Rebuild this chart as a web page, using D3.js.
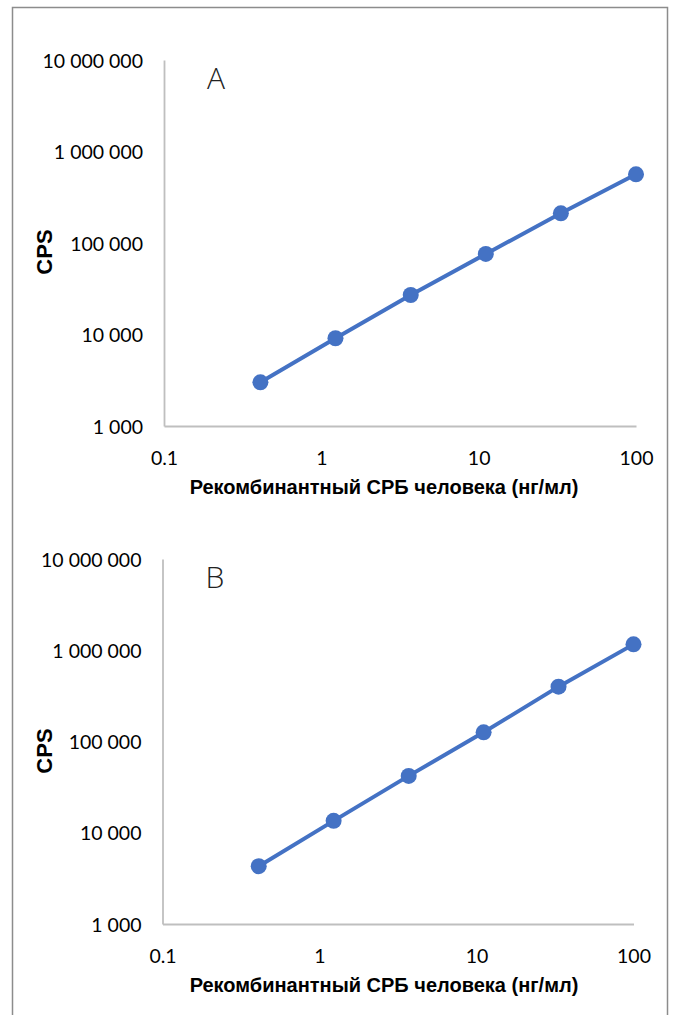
<!DOCTYPE html>
<html>
<head>
<meta charset="utf-8">
<script src="https://cdn.jsdelivr.net/npm/d3@7"></script>
<style>
  body { margin: 0; background: #fff; }
  svg { display: block; }
</style>
</head>
<body>
<script>
// concentrations of recombinant CRP (ng/ml), 3-fold dilutions
var conc = [0.41, 1.23, 3.7, 11.1, 33.3, 100];
// counts per second, panel A and panel B
var cpsA = [3000, 9100, 27000, 76000, 211000, 563000];
var cpsB = [4300, 13500, 42000, 126000, 399000, 1160000];

var yTicks = [1e3, 1e4, 1e5, 1e6, 1e7];
var xTicks = [0.1, 1, 10, 100];
var panelNames = ["A", "B"];
var xTitle = "Рекомбинантный СРБ человека (нг/мл)";
var yTitle = "CPS";

var blue = "#4472C4";
var W = 673, H = 1015;

var svg = d3.select("body").append("svg")
    .attr("width", W)
    .attr("height", H);

// outer frame
svg.append("rect")
    .attr("x", 12.5).attr("y", 7.5)
    .attr("width", 655).attr("height", H + 10)
    .attr("fill", "none")
    .attr("stroke", "#8c8c8c")
    .attr("stroke-width", 1.5);

// plot frames for the two panels
var panels = [
    { name: panelNames[0], values: cpsA, left: 164, right: 636, top: 60, bottom: 426 },
    { name: panelNames[1], values: cpsB, left: 162.5, right: 633.5, top: 559, bottom: 924 }
];

var fmtY = function (d) { return d3.format(",")(d).replace(/,/g, " "); };
var fmtX = function (d) { return String(d); };

panels.forEach(function (p) {
    var x = d3.scaleLog().domain([0.1, 100]).range([p.left, p.right]);
    var y = d3.scaleLog().domain([1e3, 1e7]).range([p.bottom, p.top]);

    var g = svg.append("g");

    // y axis line + labels
    var yAxis = d3.axisLeft(y).tickValues(yTicks).tickFormat(fmtY).tickSize(0).tickPadding(21);
    var ya = g.append("g")
        .attr("transform", "translate(" + p.left + ",0)")
        .call(yAxis);
    ya.select(".domain").attr("stroke", "#bfbfbf").attr("stroke-width", 1.8);
    ya.selectAll("text")
        .attr("font-family", "Lato, 'Open Sans', sans-serif")
        .attr("font-size", "19.5px")
        .attr("fill", "#000")
        .attr("dy", "0.36em");

    // x axis line + labels
    var xAxis = d3.axisBottom(x).tickValues(xTicks).tickFormat(fmtX).tickSize(0).tickPadding(32);
    var xa = g.append("g")
        .attr("transform", "translate(0," + p.bottom + ")")
        .call(xAxis);
    xa.select(".domain").attr("stroke", "#bfbfbf").attr("stroke-width", 1.8);
    xa.selectAll("text")
        .attr("font-family", "Lato, 'Open Sans', sans-serif")
        .attr("font-size", "19.5px")
        .attr("fill", "#000")
        .attr("dy", "0.36em");

    // series line
    var pts = conc.map(function (c, i) { return [c, p.values[i]]; });
    var line = d3.line()
        .x(function (d) { return x(d[0]); })
        .y(function (d) { return y(d[1]); });
    g.append("path")
        .datum(pts)
        .attr("d", line)
        .attr("fill", "none")
        .attr("stroke", blue)
        .attr("stroke-width", 4);

    g.selectAll("circle.pt")
        .data(pts)
        .enter().append("circle")
        .attr("class", "pt")
        .attr("cx", function (d) { return x(d[0]); })
        .attr("cy", function (d) { return y(d[1]); })
        .attr("r", 8)
        .attr("fill", blue);

    // panel letter
    g.append("text")
        .attr("x", p.left + 43)
        .attr("y", p.top + 29)
        .attr("font-family", "'Open Sans', sans-serif")
        .attr("font-weight", 300)
        .attr("font-size", "30px")
        .attr("fill", "#222")
        .text(p.name);

    // y axis title
    g.append("text")
        .attr("transform", "translate(52," + (p.top + 192) + ") rotate(-90)")
        .attr("text-anchor", "middle")
        .attr("font-family", "'Liberation Sans Narrow', 'Liberation Sans', Arial, sans-serif")
        .attr("font-weight", "bold")
        .attr("font-size", "22px")
        .attr("fill", "#000")
        .text(yTitle);

    // x axis title
    g.append("text")
        .attr("x", 384)
        .attr("y", p.bottom + 68)
        .attr("text-anchor", "middle")
        .attr("font-family", "'Liberation Sans Narrow', 'Liberation Sans', Arial, sans-serif")
        .attr("font-weight", "bold")
        .attr("font-size", "20px")
        .attr("fill", "#000")
        .text(xTitle);
});
</script>
</body>
</html>
